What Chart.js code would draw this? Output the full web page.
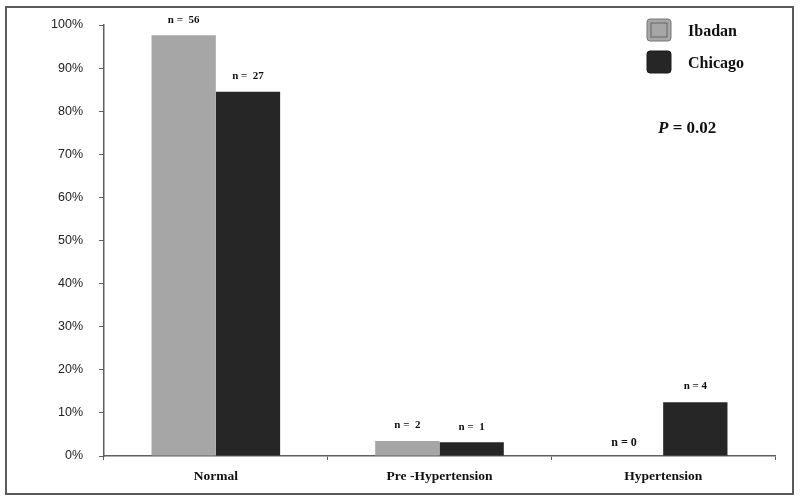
<!DOCTYPE html>
<html>
<head>
<meta charset="utf-8">
<script src="https://cdn.jsdelivr.net/npm/chart.js@4"></script>
<style>
  html, body { margin: 0; padding: 0; background: #fff; }
  #wrap { width: 800px; height: 502px; }
</style>
</head>
<body>
<div id="wrap"><canvas id="bpChart" width="800" height="502"></canvas></div>
<script>
// categories and series (percent of each cohort)
const categories = ['Normal', 'Pre -Hypertension', 'Hypertension'];
const ibadanValues = [97.6, 3.5, 0];
const chicagoValues = [84.5, 3.2, 12.5];
const ibadanCounts = ['n =  56', 'n =  2', 'n = 0'];
const chicagoCounts = ['n =  27', 'n =  1', 'n = 4'];
const seriesNames = ['Ibadan', 'Chicago'];
const pValueText = '= 0.02';

const gray = '#a6a6a6';
const dark = '#262626';
const serif = '"Liberation Serif", "DejaVu Serif", serif';
const sans = '"Liberation Sans", Arial, sans-serif';

// frame, count labels, legend and p value
const extras = {
  id: 'extras',
  beforeDraw(chart) {
    const c = chart.ctx;
    c.save();
    c.fillStyle = '#fff';
    c.fillRect(0, 0, chart.width, chart.height);
    c.strokeStyle = '#5a5a5a';
    c.lineWidth = 2;
    c.strokeRect(6, 7, 787, 487);
    c.restore();
  },
  afterDatasetsDraw(chart) {
    const c = chart.ctx;
    c.save();
    c.fillStyle = '#111';
    c.textAlign = 'center';
    c.textBaseline = 'bottom';
    const counts = [ibadanCounts, chicagoCounts];
    chart.data.datasets.forEach((ds, i) => {
      const meta = chart.getDatasetMeta(i);
      meta.data.forEach((bar, j) => {
        const zero = ds.data[j] === 0;
        c.font = 'bold ' + (zero ? 12 : 11) + 'px ' + serif;
        c.fillText(counts[i][j], bar.x - (zero ? 7 : 0), bar.y - (zero ? 7 : 10));
      });
    });

    // legend
    c.textAlign = 'left';
    c.textBaseline = 'middle';
    c.font = 'bold 16px ' + serif;
    const lx = 647, ly = [30, 62];
    [gray, dark].forEach((col, i) => {
      c.fillStyle = col;
      c.strokeStyle = i === 0 ? '#777' : '#1a1a1a';
      c.lineWidth = 1;
      c.beginPath();
      c.roundRect(lx, ly[i] - 11, 24, 22, 3);
      c.fill();
      c.stroke();
      if (i === 0) {
        c.strokeStyle = '#666';
        c.strokeRect(lx + 4, ly[i] - 7, 16, 14);
      }
      c.fillStyle = '#111';
      c.fillText(seriesNames[i], 688, ly[i] + 2);
    });

    // p value
    c.font = 'italic bold 17px ' + serif;
    c.fillText('P', 658, 129);
    const pw = c.measureText('P ').width;
    c.font = 'bold 17px ' + serif;
    c.fillText(pValueText, 658 + pw, 129);
    c.restore();
  }
};

const ctx = document.getElementById('bpChart').getContext('2d');
new Chart(ctx, {
  type: 'bar',
  data: {
    labels: categories,
    datasets: [
      { label: seriesNames[0], data: ibadanValues, backgroundColor: gray },
      { label: seriesNames[1], data: chicagoValues, backgroundColor: dark }
    ]
  },
  options: {
    responsive: false,
    animation: false,
    datasets: { bar: { categoryPercentage: 0.575, barPercentage: 1 } },
    layout: { padding: { top: 25, right: 25, bottom: 0, left: 0 } },
    plugins: { legend: { display: false }, tooltip: { enabled: false } },
    scales: {
      y: {
        min: 0, max: 100,
        afterFit(scale) { scale.width = 104; },
        border: { color: '#606060', width: 1.5 },
        grid: { drawOnChartArea: false, tickLength: 5, color: '#606060' },
        ticks: {
          stepSize: 10, padding: 16, color: '#222',
          font: { family: sans, size: 12.5 },
          callback: v => v + '%'
        }
      },
      x: {
        afterFit(scale) { scale.height = 46; },
        border: { color: '#606060', width: 1.5 },
        grid: { offset: true, drawOnChartArea: false, tickLength: 4, color: '#606060' },
        ticks: {
          padding: 8, color: '#111',
          font: { family: serif, size: 13.5, weight: 'bold' }
        }
      }
    }
  },
  plugins: [extras]
});
</script>
</body>
</html>
